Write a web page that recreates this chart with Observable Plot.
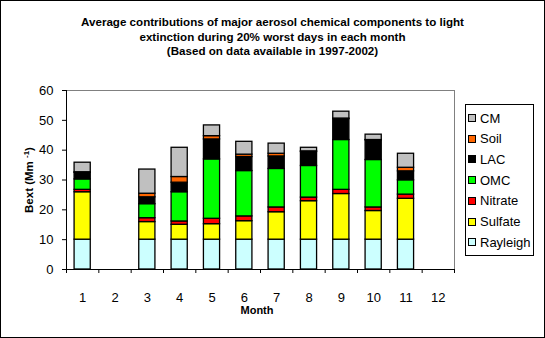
<!DOCTYPE html>
<html>
<head>
<meta charset="utf-8">
<script src="https://cdn.jsdelivr.net/npm/d3@7"></script>
<script src="https://cdn.jsdelivr.net/npm/@observablehq/plot@0.6"></script>
<style>
  html, body { margin: 0; padding: 0; background: #fff; }
  #wrap { position: relative; width: 545px; height: 338px; font-family: "Liberation Sans", Arial, sans-serif; overflow: hidden; }
  #wrap svg { position: absolute; left: 0; top: 0; }
  #border { position: absolute; left: 0; top: 0; width: 543px; height: 336px; border: 1px solid #000; pointer-events: none; }
  #title { position: absolute; left: 0; width: 545px; top: 15px; text-align: center; font-weight: bold; font-size: 11.6px; line-height: 14.5px; color: #000; }
  #ylab { position: absolute; left: 28px; top: 180px; transform: translate(-50%, -50%) rotate(-90deg); white-space: nowrap; font-weight: bold; font-size: 11.5px; }
  #ylab sup { font-size: 8px; vertical-align: 4px; }
  #xlab { position: absolute; left: 257px; top: 310px; transform: translate(-50%, -50%); font-weight: bold; font-size: 11px; }
  #legend { position: absolute; left: 465px; top: 104px; width: 69px; height: 152px; border: 1px solid #000; box-sizing: border-box; }
  .li { position: absolute; left: 0; height: 16px; display: flex; align-items: center; font-size: 13px; }
  .sw { width: 6px; height: 6px; border: 1px solid #000; margin-left: 2px; margin-right: 4px; }
</style>
</head>
<body>
<div id="wrap">
  <div id="title">Average contributions of major aerosol chemical components to light<br>extinction during 20% worst days in each month<br>(Based on data available in 1997-2002)</div>
  <div id="ylab">Bext (Mm <sup>-1</sup>)</div>
  <div id="xlab">Month</div>
  <div id="legend"></div>
  <div id="border"></div>
</div>
<script>
const months = [1, 2, 3, 4, 5, 6, 7, 8, 9, 10, 11, 12];
const components = ["Rayleigh", "Sulfate", "Nitrate", "OMC", "LAC", "Soil", "CM"];
const colors = ["#CCFFFF", "#FFFF00", "#FF0000", "#00FF00", "#000000", "#FF6600", "#C0C0C0"];
const rayleigh = [10, null, 10, 10, 10, 10, 10, 10, 10, 10, 10, null];
const sulfate  = [15.9, null, 5.9, 5.0, 5.2, 6.2, 9.2, 12.9, 15.3, 9.6, 13.7, null];
const nitrate  = [0.8, null, 1.3, 1.1, 1.8, 1.6, 1.6, 1.2, 1.4, 1.2, 1.4, null];
const omc      = [3.5, null, 4.7, 9.8, 19.9, 15.2, 12.9, 10.6, 16.7, 15.9, 4.8, null];
const lac      = [2.2, null, 2.3, 3.2, 6.7, 4.7, 4.2, 4.7, 7.0, 6.6, 3.0, null];
const soil     = [0.2, null, 1.2, 1.9, 1.1, 0.8, 0.9, 0.2, 0.2, 0.1, 1.2, null];
const cm       = [3.2, null, 8.1, 9.8, 3.6, 4.3, 3.4, 1.2, 2.3, 1.8, 4.7, null];
const yTicks = [0, 10, 20, 30, 40, 50, 60];

const series = [rayleigh, sulfate, nitrate, omc, lac, soil, cm];
const data = [];
months.forEach((m, i) => {
  series.forEach((s, k) => {
    if (s[i] != null) data.push({month: m, component: components[k], value: s[i]});
  });
});
const bounds = [...months.map(m => m - 0.5), months[months.length - 1] + 0.5];

const chart = Plot.plot({
  width: 545,
  height: 338,
  marginLeft: 66,
  marginRight: 91,
  marginTop: 90,
  marginBottom: 69,
  style: {fontFamily: "'Liberation Sans', Arial, sans-serif", fontSize: "13px", background: "transparent", overflow: "visible"},
  x: {domain: [0.5, 12.5], axis: null},
  y: {domain: [0, 60], axis: null},
  color: {domain: components, range: colors},
  marks: [
    Plot.frame({stroke: "#808080"}),
    Plot.rectY(data, Plot.stackY({
      x: "month",
      x1: d => d.month - 0.25,
      x2: d => d.month + 0.25,
      y: "value",
      fill: "component",
      stroke: "#000",
      strokeWidth: 1.3,
      order: null
    })),
    Plot.ruleY([0], {stroke: "#000"}),
    Plot.ruleX([0.5], {stroke: "#000"}),
    Plot.axisY({ticks: yTicks, tickSize: 4, tickPadding: 9, fontSize: 13, label: null, stroke: "#000", color: "#000"}),
    Plot.axisX({ticks: bounds, tickSize: 4, tickFormat: () => "", label: null, stroke: "#000"}),
    Plot.axisX({ticks: months, tickSize: 0, tickPadding: 23, fontSize: 13, label: null, color: "#000"})
  ]
});
document.getElementById("wrap").prepend(chart);

const legendOrder = components.slice().reverse();
const leg = document.getElementById("legend");
legendOrder.forEach((c, i) => {
  const row = document.createElement("div");
  row.className = "li";
  row.style.top = (5 + i * 20.7) + "px";
  const sw = document.createElement("div");
  sw.className = "sw";
  sw.style.background = colors[components.indexOf(c)];
  const t = document.createElement("span");
  t.textContent = c;
  row.appendChild(sw);
  row.appendChild(t);
  leg.appendChild(row);
});
</script>
</body>
</html>
